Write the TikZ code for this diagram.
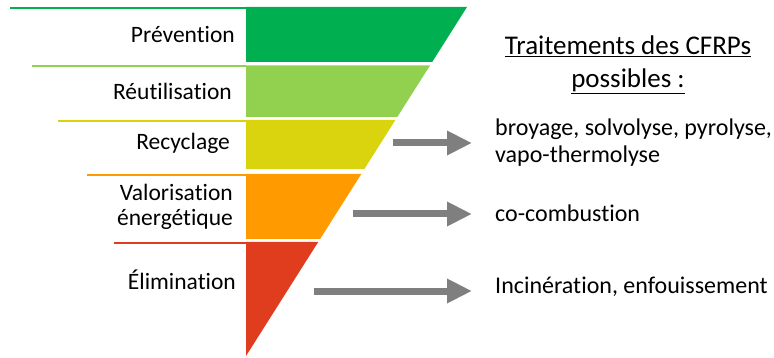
\documentclass[tikz,border=0pt]{standalone}
\usepackage{fontspec}
\setmainfont{Carlito}[Ligatures={NoCommon,NoContextual}]
\usetikzlibrary{arrows.meta, positioning, calc}
\definecolor{cprev}{HTML}{00B050}
\definecolor{creut}{HTML}{92D050}
\definecolor{crecy}{HTML}{DAD40E}
\definecolor{cvalo}{HTML}{FF9A00}
\definecolor{celim}{HTML}{E03C1E}
\definecolor{arrowgray}{HTML}{7F7F7F}

\begin{document}
\begin{tikzpicture}[x=1pt, y=-1pt,
  level/.style={anchor=base east, inner sep=0pt, align=right, font=\fontsize{23.5}{25}\selectfont},
  treat/.style={anchor=base west, inner sep=0pt, align=left, font=\fontsize{24}{27}\selectfont},
  levelline/.style={line width=2pt},
  bigarrow/.style={draw=arrowgray, line width=7pt, -{Triangle[length=25pt, width=23pt]}, shorten >=23pt}]
   \useasboundingbox (0,0) rectangle (774,358);

   % pyramid levels
   \fill[cprev] (246,7) -- (467,7) -- (432.2,62) -- (246,62) -- cycle;
   \fill[creut] (246,65.5) -- (430.0,65.5) -- (397.3,117) -- (246,117) -- cycle;
   \fill[crecy] (246,120) -- (395.4,120) -- (364.4,169) -- (246,169) -- cycle;
   \fill[cvalo] (246,174) -- (361.3,174) -- (320.1,239) -- (246,239) -- cycle;
   \fill[celim] (246,242) -- (318.2,242) -- (246,356) -- cycle;

   \draw[levelline, cprev] (10,8) -- (246,8);
   \draw[levelline, creut] (32,66.5) -- (246,66.5);
   \draw[levelline, crecy] (58,120.7) -- (246,120.7);
   \draw[levelline, cvalo] (87,175) -- (246,175);
   \draw[levelline, celim] (114,243.5) -- (246,243.5);

   \node[level] (prev) at (235,42.7) {Prévention};
   \node[level] (reut) at (232,100) {Réutilisation};
   \node[level] (recy) at (230,150) {Recyclage};
   \node[level, anchor=east] (valo) at (233,207) {Valorisation\\énergétique};
   \node[level] (elim) at (236,290) {Élimination};

   % treatments
   \node[inner sep=0pt, align=center, font=\fontsize{27}{33}\selectfont] (titre) at (628,65)
        {\underline{Traitements des CFRPs}\\\underline{possibles :}};
   \node[treat, anchor=west] (broy) at (495,143) {broyage, solvolyse, pyrolyse,\\vapo-thermolyse};
   \node[treat] (cocomb) at (495,221.7) {co-combustion};
   \node[treat] (incin) at (495,293) {Incinération, enfouissement};

   \coordinate (recy-out) at (393,143);
   \coordinate (valo-out) at (353,214);
   \coordinate (elim-out) at (314,291);
   \draw[bigarrow] (recy-out) -- (recy-out -| broy.west);
   \draw[bigarrow] (valo-out) -- (valo-out -| cocomb.west);
   \draw[bigarrow] (elim-out) -- (elim-out -| incin.west);
\end{tikzpicture}
\end{document}
